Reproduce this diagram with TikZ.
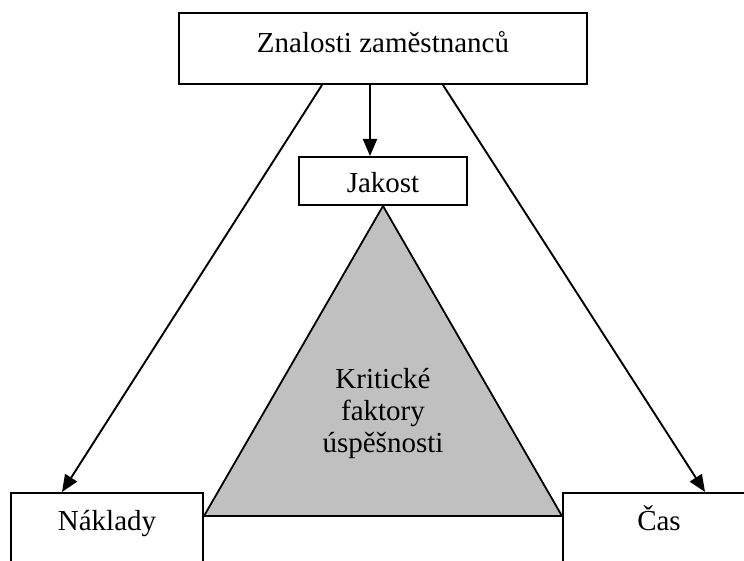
\documentclass[tikz,border=0pt]{standalone}
\usepackage{fontspec}
\setmainfont{Liberation Serif}
\usetikzlibrary{arrows.meta}
\begin{document}
\begin{tikzpicture}[x=1pt,y=-1pt,
  box/.style={draw=black,line width=2pt,fill=white,inner sep=0pt,minimum width=#1},
  lbl/.style={anchor=base,inner sep=0pt,font=\fontsize{29}{33}\selectfont},
  arr/.style={line width=1.9pt,-{Triangle[length=17pt,width=14pt]}}]
\path[use as bounding box] (0,0) rectangle (744,561);
\clip (0,0) rectangle (744,561);
% boxes
\node[box=408pt,minimum height=71pt] (top) at (383,48.5) {};
\node[box=168pt,minimum height=48pt] (jak) at (383,181) {};
\node[box=192pt,minimum height=120pt] (nak) at (107,553) {};
\node[box=192pt,minimum height=120pt] (cas) at (659,553) {};
% triangle
\coordinate (bl) at ([yshift=-24pt]nak.north east);
\coordinate (br) at ([yshift=-24pt]cas.north west);
\path[draw=black,line width=1.8pt,fill={rgb,255:red,192;green,192;blue,192},line join=miter]
  (jak.south) -- (bl) -- (br) -- cycle;
% texts
\node[lbl] (ttop) at (383,53) {Znalosti zaměstnanců};
\node[lbl] (tjak) at (383,193) {Jakost};
\node[lbl] (tnak) at (107,530) {Náklady};
\node[lbl] (tcas) at (659,530) {Čas};
\node[lbl] (k1) at (383,388) {Kritické};
\node[lbl] (k2) at (383,420) {faktory};
\node[lbl] (k3) at (383,452) {úspěšnosti};
% connectors
\draw[arr] ([xshift=-13pt]top.south) -- ([xshift=-13pt]jak.north);
\draw[arr] ([xshift=-61pt]top.south) -- ([xshift=-45pt]nak.north);
\draw[arr] ([xshift=60pt]top.south) -- ([xshift=46pt]cas.north);
\end{tikzpicture}
\end{document}
